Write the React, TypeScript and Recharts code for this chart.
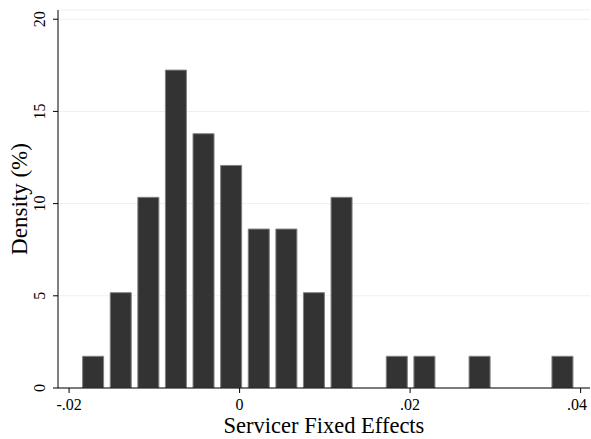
import React from "react";
import { Bar, BarChart, CartesianGrid, XAxis, YAxis } from "recharts";

// histogram bins (center of bin, percent of servicers)
const binCenters = [
  -0.01715, -0.01391, -0.01067, -0.00744, -0.0042, -0.00096, 0.00228, 0.00552, 0.00875, 0.01199,
  0.01847, 0.02171, 0.02818, 0.0379,
];
const density = [1.72, 5.17, 10.34, 17.24, 13.79, 12.07, 8.62, 8.62, 5.17, 10.34, 1.72, 1.72, 1.72, 1.72];
const xTicks = [-0.02, 0, 0.02, 0.04];
const yTicks = [0, 5, 10, 15, 20];

const data = binCenters.map((x, i) => ({ x, pct: density[i] }));

const FONT = "'Liberation Serif', 'Times New Roman', serif";

const fmtX = (v: number) => (v === 0 ? "0" : v.toFixed(2).replace("0.", "."));

const XTick = (props: any) => {
  const { x, y, payload } = props;
  return (
    <text x={x} y={y + 15} textAnchor="middle" fontFamily={FONT} fontSize={16} fill="#000">
      {fmtX(payload.value)}
    </text>
  );
};

const YTick = (props: any) => {
  const { x, y, payload } = props;
  const bx = x - 6;
  return (
    <text x={bx} y={y} transform={`rotate(-90, ${bx}, ${y})`} textAnchor="middle" fontFamily={FONT} fontSize={16} fill="#000">
      {payload.value}
    </text>
  );
};

export default function App() {
  return (
    <div style={{ position: "absolute", left: 0, top: 0, background: "#fff" }}>
      <BarChart width={591} height={439} data={data} margin={{ top: 10, right: 1, left: 0, bottom: 0 }}>
        <CartesianGrid vertical={false} stroke="#eaf1f3" />
        <XAxis
          dataKey="x"
          type="number"
          domain={[-0.0213, 0.0411]}
          ticks={xTicks}
          allowDataOverflow
          height={51}
          tickSize={5}
          tickMargin={2}
          stroke="#000"
          tick={<XTick />}
          label={{
            content: (p: any) => {
              const vb = p.viewBox;
              return (
                <text x={vb.x + vb.width / 2} y={vb.y + 45} textAnchor="middle" fontFamily={FONT} fontSize={22.5} fill="#000">
                  Servicer Fixed Effects
                </text>
              );
            },
          }}
        />
        <YAxis
          type="number"
          domain={[0, 20.5]}
          ticks={yTicks}
          allowDataOverflow
          width={58}
          tickSize={5}
          tickMargin={2}
          stroke="#000"
          tick={<YTick />}
          label={{
            content: (p: any) => {
              const vb = p.viewBox;
              const cy = vb.y + vb.height / 2;
              return (
                <text x={27} y={cy} transform={`rotate(-90, 27, ${cy})`} textAnchor="middle" fontFamily={FONT} fontSize={23} fill="#000">
                  Density (%)
                </text>
              );
            },
          }}
        />
        <Bar dataKey="pct" fill="#333333" stroke="#808080" strokeWidth={1} barSize={21} isAnimationActive={false} />
      </BarChart>
    </div>
  );
}
